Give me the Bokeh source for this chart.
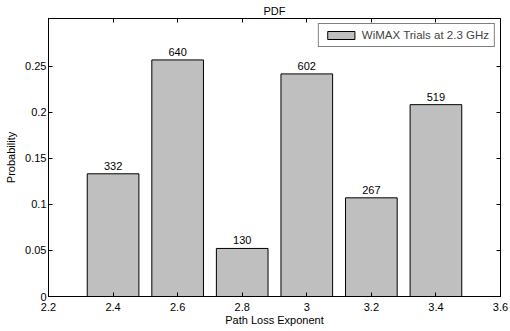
from bokeh.plotting import figure
from bokeh.models import (ColumnDataSource, Range1d, FixedTicker, LinearAxis,
                          CustomJSTickFormatter, Legend, LegendItem, Title)
from bokeh.embed import file_html
from bokeh.resources import INLINE
from bokeh.core.properties import value

# ---- data ----
exponents = [2.4, 2.6, 2.8, 3.0, 3.2, 3.4]
probabilities = [0.1333, 0.2570, 0.0522, 0.2418, 0.1072, 0.2084]
counts = ["332", "640", "130", "602", "267", "519"]
x_ticks = [2.2, 2.4, 2.6, 2.8, 3.0, 3.2, 3.4, 3.6]
y_ticks = [0, 0.05, 0.1, 0.15, 0.2, 0.25]
series_name = "WiMAX Trials at 2.3 GHz"
title_text = "PDF"
x_label = "Path Loss Exponent"
y_label = "Probability"

FONT = "Liberation Sans"
FS = "11px"

src = ColumnDataSource(dict(x=exponents, y=probabilities, label=counts))

p = figure(width=510, height=331, output_backend="svg", toolbar_location=None,
           x_range=Range1d(2.2, 3.6), y_range=Range1d(0, 0.302),
           min_border_left=48, min_border_right=10, min_border_top=18,
           min_border_bottom=35)
p.grid.visible = False
p.outline_line_color = "black"
p.outline_line_width = 1
p.background_fill_color = "white"
p.border_fill_color = "white"

bars = p.vbar(x="x", top="y", width=0.16, source=src,
              fill_color="#bfbfbf", line_color="black", line_width=1)

p.text(x="x", y="y", text="label", source=src, text_align="center",
       text_baseline="bottom", y_offset=-4,
       text_font=value(FONT), text_font_size=FS, text_color="black")

fmt = CustomJSTickFormatter(code="return String(Math.round(tick*1000)/1000);")
empty = CustomJSTickFormatter(code="return '';")

def style(ax):
    ax.major_tick_in = 4
    ax.major_tick_out = 0
    ax.minor_tick_line_color = None
    ax.axis_line_color = "black"
    ax.major_tick_line_color = "black"
    ax.major_label_text_font = FONT
    ax.major_label_text_font_size = FS
    ax.major_label_text_color = "black"
    ax.major_label_standoff = 2
    ax.axis_label_text_font = FONT
    ax.axis_label_text_font_size = FS
    ax.axis_label_text_font_style = "normal"
    ax.axis_label_text_color = "black"
    ax.axis_label_standoff = 3

xa = p.xaxis[0]
xa.ticker = FixedTicker(ticks=x_ticks)
xa.formatter = fmt
xa.axis_label = x_label
style(xa)
xa.major_label_standoff = 6
xa.axis_label_standoff = 0

ya = p.yaxis[0]
ya.ticker = FixedTicker(ticks=y_ticks)
ya.formatter = fmt
ya.axis_label = y_label
style(ya)
ya.axis_label_standoff = 5

top = LinearAxis(ticker=FixedTicker(ticks=x_ticks), formatter=empty)
style(top)
top.major_label_standoff = 0
top.major_label_text_font_size = "0px"
p.add_layout(top, "above")

right = LinearAxis(ticker=FixedTicker(ticks=y_ticks), formatter=empty)
style(right)
right.major_label_standoff = 0
right.major_label_text_font_size = "0px"
p.add_layout(right, "right")

p.add_layout(Title(text=title_text, align="center", vertical_align="bottom",
                   text_font=FONT, text_font_size=FS, text_font_style="normal",
                   text_color="black", standoff=3, offset=0), "above")

legend = Legend(items=[LegendItem(label=series_name, renderers=[bars])],
                location="top_right", border_line_color="black", border_line_width=1,
                label_text_font=FONT, label_text_font_size="11.5px",
                glyph_width=34, glyph_height=10, label_height=10, label_width=127,
                padding=5, spacing=0, margin=5, label_standoff=4,
                background_fill_alpha=1)
p.add_layout(legend, "center")

open("out.html", "w").write(file_html(p, INLINE))
